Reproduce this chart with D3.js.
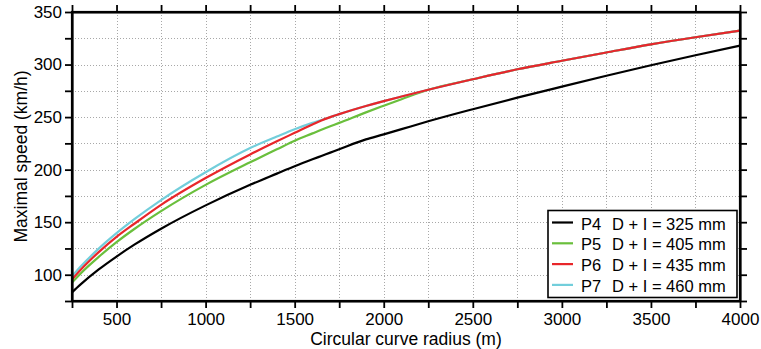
<!DOCTYPE html>
<html>
<head>
<meta charset="utf-8">
<script src="https://cdn.jsdelivr.net/npm/d3@7"></script>
<style>
  html, body { margin: 0; padding: 0; background: #fff; }
  svg { display: block; font-family: "Liberation Sans", Arial, Helvetica, sans-serif; }
</style>
</head>
<body>
<svg id="chart" width="761" height="349"></svg>
<script>
// ---- data ----
const radius = [250,300,400,500,600,750,1000,1250,1400,1500,1600,1650,1700,1750,1900,2000,2100,2250,2500,2750,3000,3250,3500,3750,4000];
const p4 = [83.2,91,105,117.3,128.6,143.8,166,185.6,196.2,203.2,209.8,213,216.2,219.4,228.8,233.5,238.5,246,257.5,268.5,279,289.3,299.3,308.8,318];
const p5 = [92.5,101.5,117,131,143.5,160.5,185.5,207,219.3,227.5,234.5,238,241.3,244.5,254.5,260.8,267,276,286,295.5,303.6,311.5,319.2,326,332.2];
const p6 = [95.5,105,121.5,136,148.5,166.5,192,214.5,227,235,243,246.8,250,252.8,260.5,265.2,269.6,276,286,295.5,303.6,311.5,319.2,326,332.2];
const p7 = [98.5,108,124.8,139.5,152.8,171,197.5,220.5,231.5,238.5,244.5,247.2,250,252.8,260.5,265.2,269.6,276,286,295.5,303.6,311.5,319.2,326,332.2];
const seriesNames = ["P4", "P5", "P6", "P7"];
const seriesLabels = ["D + I = 325 mm", "D + I = 405 mm", "D + I = 435 mm", "D + I = 460 mm"];
const seriesColors = ["#000000", "#6abf3c", "#e8262a", "#72cedb"];
const xTicks = [250,500,750,1000,1250,1500,1750,2000,2250,2500,2750,3000,3250,3500,3750,4000];
const xLabels = [500,1000,1500,2000,2500,3000,3500,4000];
const yTicks = [75,100,125,150,175,200,225,250,275,300,325,350];
const yLabels = [100,150,200,250,300,350];
const xTitle = "Circular curve radius (m)";
const yTitle = "Maximal speed (km/h)";

// ---- layout ----
const svg = d3.select("#chart");
const L = 72, R = 740, T = 12, B = 301;
const x = d3.scaleLinear().domain([250, 4000]).range([L, R]);
const y = d3.scaleLinear().domain([75, 350]).range([B, T]);
const fs = 17;

// grid
const grid = svg.append("g").attr("stroke", "#a8a8a8").attr("stroke-width", 1).attr("stroke-dasharray", "1,2");
xTicks.filter(v => v > 250 && v < 4000).forEach(v => {
  grid.append("line").attr("x1", Math.round(x(v)) + 0.5).attr("x2", Math.round(x(v)) + 0.5).attr("y1", T).attr("y2", B);
});
yTicks.filter(v => v > 75 && v < 350).forEach(v => {
  grid.append("line").attr("y1", Math.round(y(v)) + 0.5).attr("y2", Math.round(y(v)) + 0.5).attr("x1", L).attr("x2", R);
});

// lines
const data = [p4, p5, p6, p7];
const line = d3.line().x((d, i) => x(radius[i])).y(d => y(d)).curve(d3.curveMonotoneX);
const drawOrder = [0, 1, 3, 2];
drawOrder.forEach(k => {
  svg.append("path").datum(data[k]).attr("d", line)
    .attr("fill", "none").attr("stroke", seriesColors[k]).attr("stroke-width", 2.2)
    .attr("stroke-linejoin", "round");
});

// axes
const fmtX = v => xLabels.includes(v) ? String(v) : "";
const fmtY = v => yLabels.includes(v) ? String(v) : "";
const axB = svg.append("g").attr("transform", `translate(0,${B})`)
  .call(d3.axisBottom(x).tickValues(xTicks).tickFormat(fmtX).tickSize(7).tickSizeOuter(0).tickPadding(5));
const axT = svg.append("g").attr("transform", `translate(0,${T})`)
  .call(d3.axisTop(x).tickValues(xTicks).tickFormat("").tickSize(7).tickSizeOuter(0));
const axL = svg.append("g").attr("transform", `translate(${L},0)`)
  .call(d3.axisLeft(y).tickValues(yTicks).tickFormat(fmtY).tickSize(7).tickSizeOuter(0).tickPadding(3));
const axRt = svg.append("g").attr("transform", `translate(${R},0)`)
  .call(d3.axisRight(y).tickValues(yTicks).tickFormat("").tickSize(7).tickSizeOuter(0));
[axB, axT, axL, axRt].forEach(g => {
  g.selectAll(".domain").attr("stroke", "#000").attr("stroke-width", 2.2);
  g.selectAll(".tick line").attr("stroke", "#000").attr("stroke-width", 1.8);
  g.selectAll("text").attr("font-size", fs).attr("font-family", "Liberation Sans, Arial, sans-serif").attr("fill", "#000");
});
svg.selectAll(".tick text").filter(function() { return this.textContent === ""; }).remove();
// frame
svg.append("rect").attr("x", L).attr("y", T).attr("width", R - L).attr("height", B - T)
  .attr("fill", "none").attr("stroke", "#000").attr("stroke-width", 2.2);

// titles
svg.append("text").attr("x", (L + R) / 2).attr("y", 344.5).attr("text-anchor", "middle")
  .attr("font-size", 17.5).text(xTitle);
svg.append("text").attr("transform", `translate(27,${(T + B) / 2}) rotate(-90)`).attr("text-anchor", "middle")
  .attr("font-size", 17.5).text(yTitle);

// legend
const lg = svg.append("g");
lg.append("rect").attr("x", 548).attr("y", 210.5).attr("width", 189).attr("height", 87)
  .attr("fill", "#fff").attr("stroke", "#000").attr("stroke-width", 1.6);
seriesNames.forEach((n, i) => {
  const yy = 222.5 + i * 20.8;
  lg.append("line").attr("x1", 552).attr("x2", 573).attr("y1", yy).attr("y2", yy)
    .attr("stroke", seriesColors[i]).attr("stroke-width", 2.2);
  lg.append("text").attr("x", 581).attr("y", yy + 7).attr("font-size", 16.5).text(n);
  lg.append("text").attr("x", 612).attr("y", yy + 7).attr("font-size", 16.5).text(seriesLabels[i]);
});
</script>
</body>
</html>
